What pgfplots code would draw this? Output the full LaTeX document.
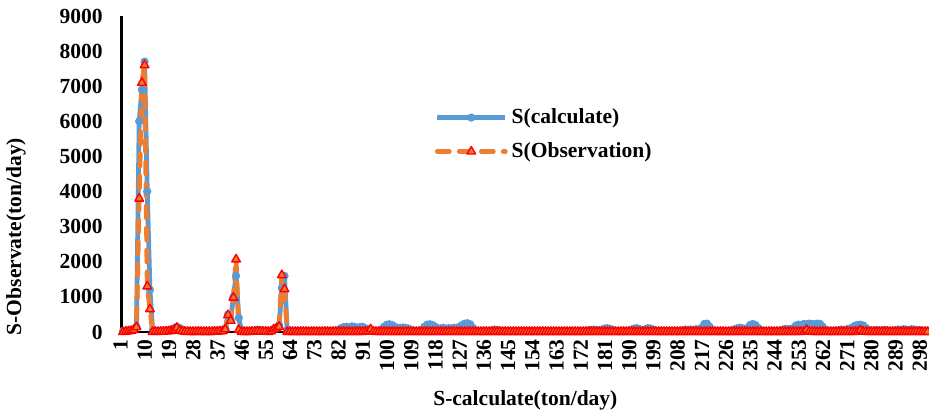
\documentclass[border=0pt]{standalone}
\usepackage{fontspec}
\setmainfont{Liberation Serif}
\usepackage{pgfplots}
\pgfplotsset{compat=1.18}
\usepackage{pgfplotstable}

\definecolor{calcblue}{RGB}{91,155,213}
\definecolor{obsorange}{RGB}{237,125,49}
\definecolor{obsred}{RGB}{255,0,0}

% daily sediment load: day, calculated, observed (ton/day)
\pgfplotstableread[row sep=\\]{
x calc obs\\
1 30 0\\ 2 40 10\\ 3 50 20\\ 4 60 30\\ 5 80 60\\ 6 150 140\\ 7 6000 3800\\ 8 6900 7100\\ 9 7700 7600\\ 10 4000 1300\\
11 1200 650\\ 12 40 0\\ 13 30 10\\ 14 20 5\\ 15 30 10\\ 16 40 10\\ 17 50 15\\ 18 60 20\\ 19 80 30\\ 20 110 60\\
21 150 120\\ 22 120 40\\ 23 70 20\\ 24 40 10\\ 25 30 5\\ 26 30 5\\ 27 20 5\\ 28 20 5\\ 29 30 10\\ 30 20 5\\
31 20 5\\ 32 30 5\\ 33 20 5\\ 34 20 5\\ 35 30 10\\ 36 40 10\\ 37 50 20\\ 38 60 20\\ 39 100 77\\ 40 500 480\\
41 350 320\\ 42 1000 980\\ 43 1600 2070\\ 44 400 60\\ 45 40 0\\ 46 30 5\\ 47 20 5\\ 48 20 5\\ 49 30 10\\ 50 40 10\\
51 60 20\\ 52 50 15\\ 53 40 10\\ 54 30 10\\ 55 20 5\\ 56 30 20\\ 57 80 77\\ 58 100 100\\ 59 200 150\\ 60 1250 1620\\
61 1600 1220\\ 62 50 0\\ 63 40 5\\ 64 30 5\\ 65 30 5\\ 66 20 5\\ 67 30 5\\ 68 40 5\\ 69 30 5\\ 70 20 5\\
71 30 5\\ 72 40 5\\ 73 30 5\\ 74 20 5\\ 75 30 5\\ 76 40 5\\ 77 30 5\\ 78 20 5\\ 79 40 5\\ 80 30 5\\
81 60 5\\ 82 110 5\\ 83 140 5\\ 84 150 5\\ 85 130 5\\ 86 160 5\\ 87 150 5\\ 88 120 5\\ 89 140 5\\ 90 150 5\\
91 110 10\\ 92 80 20\\ 93 50 80\\ 94 40 10\\ 95 30 5\\ 96 40 5\\ 97 80 5\\ 98 150 5\\ 99 210 5\\ 100 220 5\\
101 200 5\\ 102 150 5\\ 103 110 5\\ 104 120 5\\ 105 130 5\\ 106 120 5\\ 107 100 5\\ 108 60 5\\ 109 40 5\\ 110 30 5\\
111 40 5\\ 112 60 5\\ 113 150 5\\ 114 210 5\\ 115 220 5\\ 116 200 5\\ 117 150 5\\ 118 110 5\\ 119 100 5\\ 120 120 5\\
121 90 5\\ 122 110 5\\ 123 100 5\\ 124 120 5\\ 125 100 5\\ 126 150 5\\ 127 200 5\\ 128 240 5\\ 129 250 5\\ 130 220 5\\
131 120 5\\ 132 50 5\\ 133 30 5\\ 134 20 5\\ 135 30 5\\ 136 40 5\\ 137 30 5\\ 138 50 5\\ 139 70 5\\ 140 60 5\\
141 40 5\\ 142 30 5\\ 143 20 5\\ 144 30 5\\ 145 20 5\\ 146 30 5\\ 147 20 5\\ 148 30 5\\ 149 20 5\\ 150 30 5\\
151 20 5\\ 152 30 5\\ 153 20 5\\ 154 30 5\\ 155 20 5\\ 156 30 5\\ 157 20 5\\ 158 30 5\\ 159 20 5\\ 160 30 5\\
161 20 5\\ 162 30 5\\ 163 20 5\\ 164 30 5\\ 165 20 5\\ 166 30 5\\ 167 20 5\\ 168 30 5\\ 169 20 5\\ 170 30 5\\
171 20 5\\ 172 30 5\\ 173 40 5\\ 174 50 5\\ 175 60 5\\ 176 70 5\\ 177 60 5\\ 178 40 5\\ 179 70 5\\ 180 100 5\\
181 110 5\\ 182 90 5\\ 183 60 5\\ 184 30 5\\ 185 20 5\\ 186 30 5\\ 187 20 5\\ 188 30 5\\ 189 40 5\\ 190 70 5\\
191 100 5\\ 192 110 5\\ 193 80 5\\ 194 60 5\\ 195 80 5\\ 196 110 5\\ 197 100 5\\ 198 70 5\\ 199 40 5\\ 200 30 5\\
201 20 5\\ 202 30 5\\ 203 20 5\\ 204 30 5\\ 205 20 5\\ 206 30 5\\ 207 20 5\\ 208 30 5\\ 209 50 5\\ 210 70 5\\
211 60 5\\ 212 70 5\\ 213 60 5\\ 214 80 5\\ 215 70 5\\ 216 120 5\\ 217 230 5\\ 218 240 5\\ 219 150 5\\ 220 50 5\\
221 30 5\\ 222 20 5\\ 223 30 5\\ 224 20 5\\ 225 30 5\\ 226 20 5\\ 227 40 5\\ 228 70 5\\ 229 100 5\\ 230 120 5\\
231 110 5\\ 232 80 5\\ 233 120 5\\ 234 200 5\\ 235 230 5\\ 236 200 5\\ 237 120 5\\ 238 50 5\\ 239 30 5\\ 240 20 5\\
241 30 5\\ 242 20 5\\ 243 30 5\\ 244 20 5\\ 245 40 5\\ 246 60 5\\ 247 90 5\\ 248 80 5\\ 249 90 5\\ 250 110 5\\
251 180 5\\ 252 210 5\\ 253 200 5\\ 254 230 10\\ 255 220 60\\ 256 240 10\\ 257 230 5\\ 258 220 5\\ 259 240 5\\ 260 230 5\\
261 150 5\\ 262 60 5\\ 263 30 5\\ 264 20 5\\ 265 30 5\\ 266 40 5\\ 267 50 5\\ 268 70 5\\ 269 60 5\\ 270 80 5\\
271 90 5\\ 272 130 5\\ 273 180 5\\ 274 200 10\\ 275 210 50\\ 276 190 10\\ 277 120 5\\ 278 60 5\\ 279 30 5\\ 280 50 5\\
281 60 5\\ 282 40 5\\ 283 50 5\\ 284 60 5\\ 285 50 5\\ 286 40 5\\ 287 30 5\\ 288 50 5\\ 289 70 5\\ 290 60 5\\
291 80 5\\ 292 70 5\\ 293 60 5\\ 294 80 5\\ 295 70 5\\ 296 50 5\\ 297 60 5\\ 298 40 5\\ 299 30 5\\ 300 20 5\\
}\sdata

\newcommand{\chartfont}{\bfseries\fontsize{10.8}{12.5}\selectfont}

\begin{document}
\begin{tikzpicture}
\begin{axis}[
  scale only axis,
  width=403.65bp, height=158bp,
  xmin=0.5, xmax=300.5,
  ymin=0, ymax=9000,
  axis x line*=bottom, axis y line*=left,
  x axis line style={-, line width=0.8bp, black},
  y axis line style={-, line width=1.8bp, black},
  xtick={1,10,...,298},
  ytick={0,1000,...,9000},
  major tick length=0pt,
  /pgf/number format/assume math mode=true,
  /pgf/number format/1000 sep={},
  tick label style={font=\chartfont},
  xticklabel style={rotate=90, anchor=east, xshift=-2.5bp, yshift=1.2bp, inner sep=1bp},
  yticklabel style={anchor=east, xshift=-6bp},
  xlabel={S-calculate(ton/day)},
  ylabel={S-Observate(ton/day)},
  label style={font=\chartfont},
  xlabel style={at={(axis description cs:0.5,0)}, anchor=base, yshift=-36.5bp},
  ylabel style={at={(axis description cs:-0.1308,0.302)}, anchor=center},
  clip=false,
  legend cell align=left,
  legend style={draw=none, fill=none, font=\chartfont,
    at={(rel axis cs:0.385,0.727)}, anchor=north west,
    row sep=4bp, inner sep=1bp},
  legend image code/.code={%
    \draw[mark repeat=2, mark phase=2] plot coordinates {(0bp,0bp) (17bp,0bp) (34bp,0bp)};},
]
\addplot[calcblue, line width=2.4bp, line join=round,
  mark=*, mark size=1.8bp, mark options={solid, fill=calcblue, draw=calcblue, line width=0.5bp}]
  table[x=x, y=calc] {\sdata};
\addlegendentry{S(calculate)}

\addplot[obsorange, line width=2.4bp, line cap=round, line join=round,
  dash pattern=on 6bp off 5bp,
  mark=triangle*, mark size=2.5bp, mark options={solid, fill=obsorange, draw=obsred, line width=0.7bp}]
  table[x=x, y=obs] {\sdata};
\addlegendentry{S(Observation)}
\end{axis}
\pgfresetboundingbox
\path (-60.85bp,-40.5bp) rectangle (403.65bp,166bp);
\end{tikzpicture}
\end{document}
